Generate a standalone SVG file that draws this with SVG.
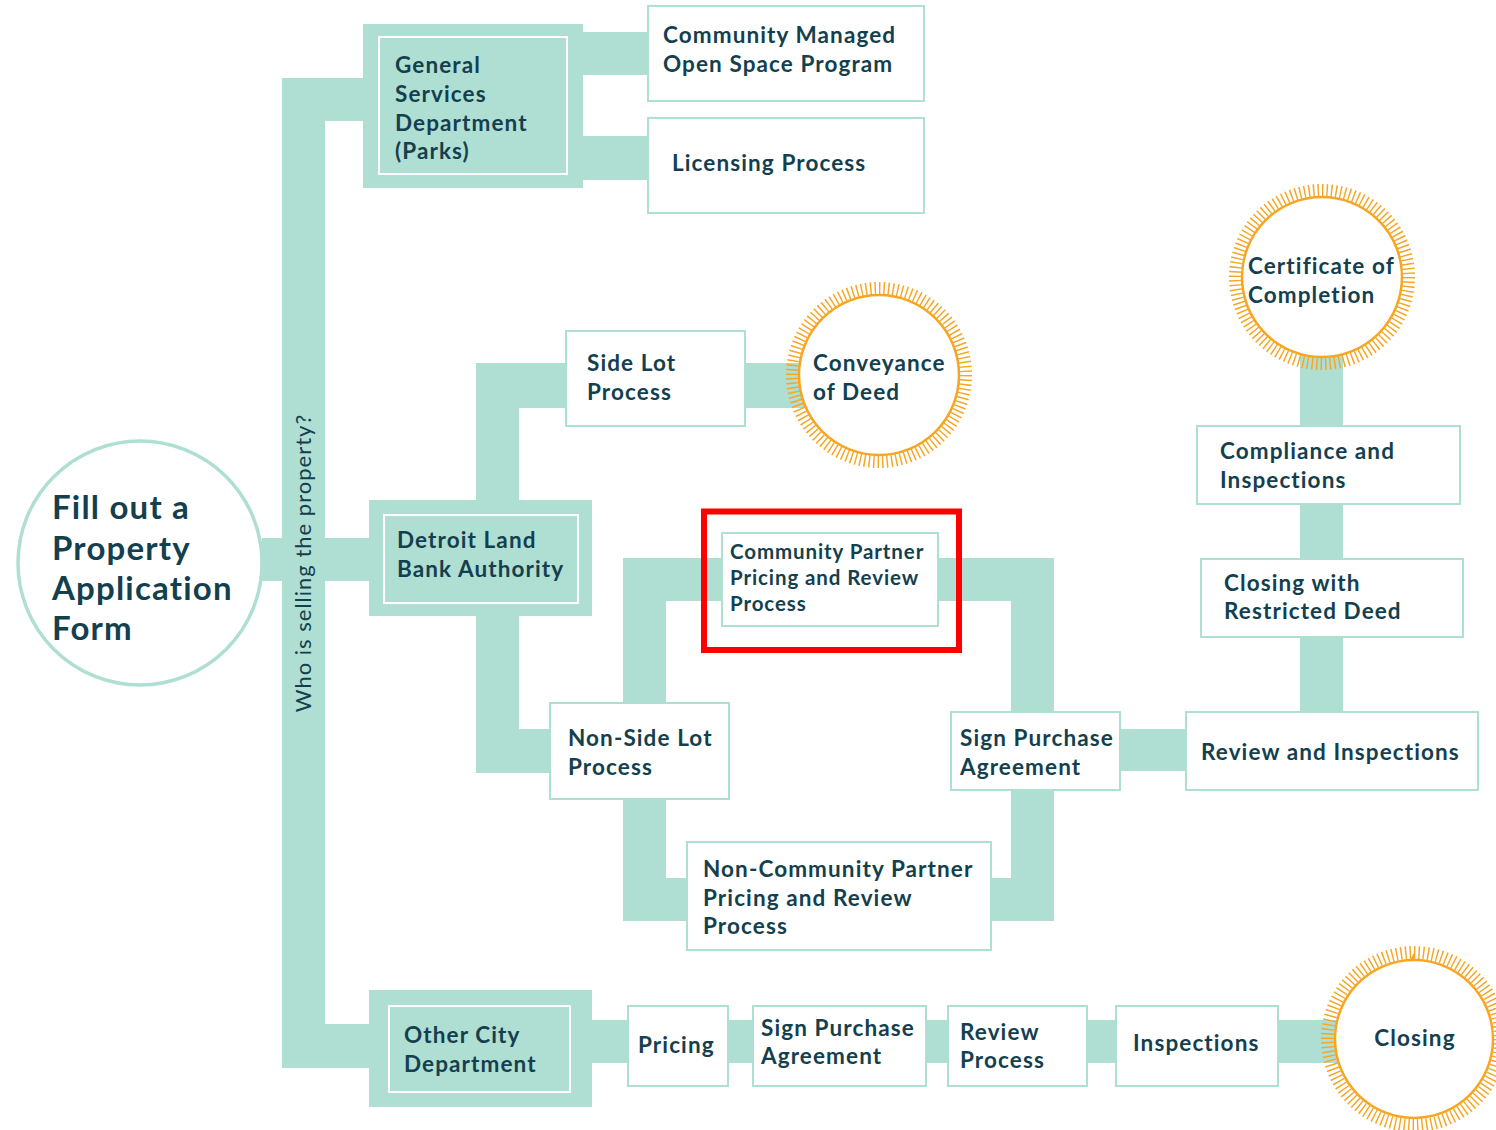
<svg xmlns="http://www.w3.org/2000/svg" width="1496" height="1130" viewBox="0 0 1496 1130">
<style>
.c{fill:#afded3}
.box{fill:#fff;stroke:#afded3;stroke-width:2}
.dept{fill:#afded3}
.din{fill:#afded3;stroke:#fff;stroke-width:2}
.t{font-family:Lato,"Open Sans","Liberation Sans",sans-serif;font-weight:700;fill:#143f4e;font-size:22.5px;letter-spacing:1.1px}
.ts{font-size:20.5px;letter-spacing:0.9px}
.th{font-size:33px;letter-spacing:1.2px}
.q{font-family:Lato,"Open Sans","Liberation Sans",sans-serif;font-weight:400;fill:#143f4e;font-size:22px;letter-spacing:1px}
.sun{fill:none;stroke:#f6a623;stroke-width:13;stroke-dasharray:0.32 0.68}
.ring{fill:#fff;stroke:#f6a623;stroke-width:2.5}
</style>
<rect width="1496" height="1130" fill="#fff"/>
<g id="connectors">
<rect class="c" x="262" y="538" width="22" height="43"/>
<rect class="c" x="282" y="78" width="43" height="990"/>
<rect class="c" x="282" y="78" width="83" height="43"/>
<rect class="c" x="324" y="538" width="46" height="43"/>
<rect class="c" x="282" y="1024" width="88" height="44"/>
<rect class="c" x="582" y="32" width="67" height="43"/>
<rect class="c" x="582" y="136" width="67" height="44"/>
<rect class="c" x="476" y="363" width="43" height="138"/>
<rect class="c" x="476" y="363" width="91" height="45"/>
<rect class="c" x="744" y="363" width="62" height="45"/>
<rect class="c" x="476" y="615" width="43" height="158"/>
<rect class="c" x="476" y="729" width="75" height="44"/>
<rect class="c" x="623" y="558" width="43" height="363"/>
<rect class="c" x="623" y="558" width="100" height="43"/>
<rect class="c" x="937" y="558" width="117" height="43"/>
<rect class="c" x="1011" y="558" width="43" height="363"/>
<rect class="c" x="623" y="878" width="431" height="43"/>
<rect class="c" x="1119" y="729" width="68" height="42"/>
<rect class="c" x="1300" y="330" width="43" height="383"/>
<rect class="c" x="590" y="1020" width="760" height="43"/>
</g>
<g id="n-start">
<circle cx="140" cy="563" r="122" fill="#fff" stroke="#afded3" stroke-width="3.5"/>
<text class="t th" x="52" y="519">Fill out a</text>
<text class="t th" x="52" y="560">Property</text>
<text class="t th" x="52" y="600">Application</text>
<text class="t th" x="52" y="640">Form</text>
</g>
<g id="n-question">
<text class="q" transform="translate(311,563) rotate(-90)" text-anchor="middle">Who is selling the property?</text>
</g>
<g id="n-gsd">
<rect class="dept" x="363" y="24" width="220" height="164"/>
<rect class="din" x="379" y="37" width="188" height="137"/>
<text class="t" x="395" y="73">General</text>
<text class="t" x="395" y="102">Services</text>
<text class="t" x="395" y="131">Department</text>
<text class="t" x="395" y="159">(Parks)</text>
</g>
<g id="n-cmosp">
<rect class="box" x="648" y="6" width="276" height="95"/>
<text class="t" x="663" y="43">Community Managed</text>
<text class="t" x="663" y="72">Open Space Program</text>
</g>
<g id="n-licensing">
<rect class="box" x="648" y="118" width="276" height="95"/>
<text class="t" x="672" y="171">Licensing Process</text>
</g>
<g id="n-dlba">
<rect class="dept" x="369" y="500" width="223" height="116"/>
<rect class="din" x="384" y="515" width="194" height="88"/>
<text class="t" x="397" y="548">Detroit Land</text>
<text class="t" x="397" y="577">Bank Authority</text>
</g>
<g id="n-sidelot">
<rect class="box" x="566" y="331" width="179" height="95"/>
<text class="t" x="587" y="371">Side Lot</text>
<text class="t" x="587" y="400">Process</text>
</g>
<g id="n-conveyance">
<circle class="sun" cx="879" cy="375" r="86.5" pathLength="120"/>
<circle class="ring" cx="879" cy="375" r="80"/>
<text class="t" x="813" y="371">Conveyance</text>
<text class="t" x="813" y="400">of Deed</text>
</g>
<g id="n-nonside">
<rect class="box" x="550" y="703" width="179" height="96"/>
<text class="t" x="568" y="746">Non-Side Lot</text>
<text class="t" x="568" y="775">Process</text>
</g>
<g id="n-cp">
<rect class="box" x="722" y="533" width="216" height="93"/>
<text class="t ts" x="730" y="559">Community Partner</text>
<text class="t ts" x="730" y="585">Pricing and Review</text>
<text class="t ts" x="730" y="611">Process</text>
</g>
<g id="n-ncp">
<rect class="box" x="687" y="842" width="304" height="108"/>
<text class="t" x="703" y="877">Non-Community Partner</text>
<text class="t" x="703" y="906">Pricing and Review</text>
<text class="t" x="703" y="934">Process</text>
</g>
<g id="n-sign">
<rect class="box" x="951" y="712" width="169" height="78"/>
<text class="t" x="960" y="746">Sign Purchase</text>
<text class="t" x="960" y="775">Agreement</text>
</g>
<g id="n-review-insp">
<rect class="box" x="1186" y="712" width="292" height="78"/>
<text class="t" x="1201" y="760">Review and Inspections</text>
</g>
<g id="n-closing-rd">
<rect class="box" x="1201" y="559" width="262" height="78"/>
<text class="t" x="1224" y="591">Closing with</text>
<text class="t" x="1224" y="619">Restricted Deed</text>
</g>
<g id="n-compliance">
<rect class="box" x="1197" y="426" width="263" height="78"/>
<text class="t" x="1220" y="459">Compliance and</text>
<text class="t" x="1220" y="488">Inspections</text>
</g>
<g id="n-certificate">
<circle class="sun" cx="1322" cy="277" r="86.5" pathLength="120"/>
<circle class="ring" cx="1322" cy="277" r="80"/>
<text class="t" x="1248" y="274">Certificate of</text>
<text class="t" x="1248" y="303">Completion</text>
</g>
<g id="n-ocd">
<rect class="dept" x="369" y="990" width="223" height="117"/>
<rect class="din" x="389" y="1006" width="181" height="86"/>
<text class="t" x="404" y="1043">Other City</text>
<text class="t" x="404" y="1072">Department</text>
</g>
<g id="n-pricing">
<rect class="box" x="628" y="1006" width="100" height="80"/>
<text class="t" x="638" y="1053">Pricing</text>
</g>
<g id="n-sign2">
<rect class="box" x="753" y="1006" width="173" height="80"/>
<text class="t" x="761" y="1036">Sign Purchase</text>
<text class="t" x="761" y="1064">Agreement</text>
</g>
<g id="n-review">
<rect class="box" x="948" y="1006" width="139" height="80"/>
<text class="t" x="960" y="1040">Review</text>
<text class="t" x="960" y="1068">Process</text>
</g>
<g id="n-inspections">
<rect class="box" x="1116" y="1006" width="162" height="80"/>
<text class="t" x="1133" y="1051">Inspections</text>
</g>
<g id="n-closing">
<circle class="sun" cx="1414" cy="1039" r="86.5" pathLength="120"/>
<circle class="ring" cx="1414" cy="1039" r="79"/>
<text class="t" x="1415" y="1046" text-anchor="middle">Closing</text>
</g>
<g id="highlight">
<rect x="704" y="511.5" width="255" height="138.5" fill="none" stroke="#ff0000" stroke-width="6"/>
</g>
</svg>
